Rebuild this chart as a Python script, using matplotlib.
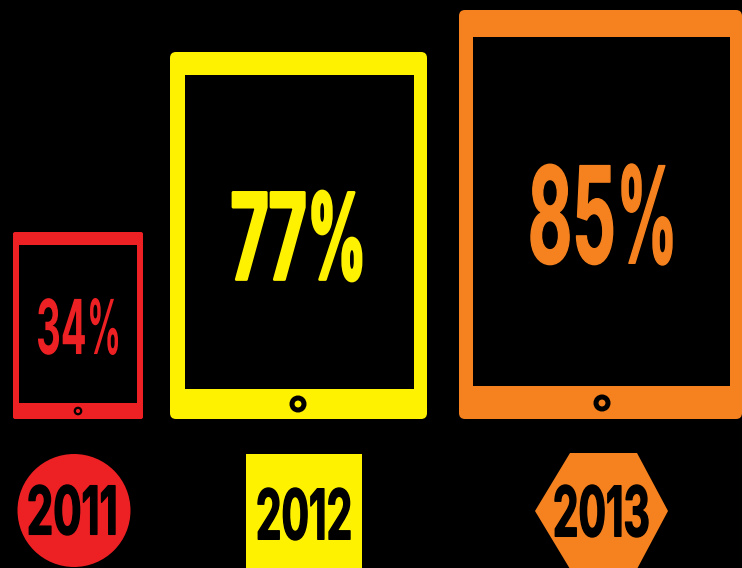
import numpy as np
import matplotlib
matplotlib.use("Agg")
import matplotlib.pyplot as plt
import matplotlib.patheffects as pe
from matplotlib.patches import FancyBboxPatch, Rectangle, Circle, Polygon
from matplotlib.path import Path
from matplotlib.transforms import IdentityTransform

years = ["2011", "2012", "2013"]
shares = [34, 77, 85]
colors = ["#ed2024", "#fff200", "#f6821f"]


class FitBox(pe.AbstractPathEffect):
    """Squeeze a text outline into a pixel box, optionally giving the % sign its own share."""

    def __init__(self, ax, box, split=None, lw=0.0):
        super().__init__()
        self.ax = ax
        self.box = box
        self.split = split
        self.lw = lw

    def draw_path(self, renderer, gc, tpath, affine, rgbFace=None):
        left, top, right, bottom = self.box
        (dx0, dy0), (dx1, dy1) = self.ax.transData.transform([(left, bottom), (right, top)])
        v = np.array(affine.transform(tpath.vertices))
        ok = tpath.codes != Path.CLOSEPOLY
        x0, x1 = v[ok, 0].min(), v[ok, 0].max()
        y0, y1 = v[ok, 1].min(), v[ok, 1].max()
        if self.split:
            src, dst = self.split
            xs = [x0, x0 + src * (x1 - x0), x1]
            xd = [dx0, dx0 + dst * (dx1 - dx0), dx1]
        else:
            xs, xd = [x0, x1], [dx0, dx1]
        v[:, 0] = np.interp(v[:, 0], xs, xd)
        v[:, 1] = dy0 + (v[:, 1] - y0) * (dy1 - dy0) / (y1 - y0)
        gc0 = renderer.new_gc()
        gc0.copy_properties(gc)
        gc0.set_linewidth(self.lw)
        gc0.set_foreground(rgbFace)
        renderer.draw_path(gc0, Path(v, tpath.codes), IdentityTransform(), rgbFace)
        gc0.restore()


fig = plt.figure(figsize=(7.42, 5.68), dpi=100, facecolor="black")
ax = fig.add_axes([0, 0, 1, 1])
ax.set_xlim(0, 742)
ax.set_ylim(568, 0)
ax.axis("off")

# outer box, inner screen, button (x, y, radius, ring), corner radius
tablets = [((13, 232, 143, 419), (19, 245, 137, 403), (78, 411, 3.2, 1.6), 2),
           ((170, 52, 427, 419), (185, 75, 414, 389), (298, 404, 6.0, 3.6), 6),
           ((459, 10, 742, 419), (473, 37, 730, 386), (602, 403, 6.0, 3.6), 6)]
# left, top, right, bottom of each percent label and year label
pct_boxes = [(38, 298, 118, 355), (233, 191, 361, 281), (531, 164, 672, 265)]
pct_strokes = [0.0, 2.0, 1.0]
year_boxes = [(29, 485, 115, 535), (258, 488, 350, 540), (555, 485, 648, 537)]

for i in range(3):
    (l, t, r, b), (sl, st, sr, sb), (bx, by, br, ring), rad = tablets[i]
    c = colors[i]
    ax.add_patch(FancyBboxPatch((l + rad, t + rad), r - l - 2 * rad, b - t - 2 * rad,
                                boxstyle=f"round,pad={rad},rounding_size={rad}", fc=c, ec="none"))
    ax.add_patch(Rectangle((sl, st), sr - sl, sb - st, fc="black", ec="none"))
    ax.add_patch(Circle((bx, by), br, fc="none", ec="black", lw=ring))

    box = pct_boxes[i]
    ax.text((box[0] + box[2]) / 2, (box[1] + box[3]) / 2, f"{shares[i]}%",
            family="Inter", weight="bold", fontsize=(box[2] - box[0]) * 0.4, color=c,
            ha="center", va="center",
            path_effects=[FitBox(ax, box, split=(0.62, 0.65), lw=pct_strokes[i])])

# year badges
ax.add_patch(Circle((74, 510.5), 56.5, fc=colors[0], ec="none"))
ax.add_patch(Rectangle((246, 454), 116, 114, fc=colors[1], ec="none"))
ax.add_patch(Polygon([(535, 511), (570, 453), (637, 453), (668, 511), (637, 569), (570, 569)],
                     fc=colors[2], ec="none"))
for i in range(3):
    box = year_boxes[i]
    ax.text((box[0] + box[2]) / 2, (box[1] + box[3]) / 2, years[i],
            family="Inter", weight="bold", fontsize=(box[2] - box[0]) * 0.3, color="black",
            ha="center", va="center", path_effects=[FitBox(ax, box, lw=1.0)])

fig.savefig("out.png", dpi=100, facecolor="black")
